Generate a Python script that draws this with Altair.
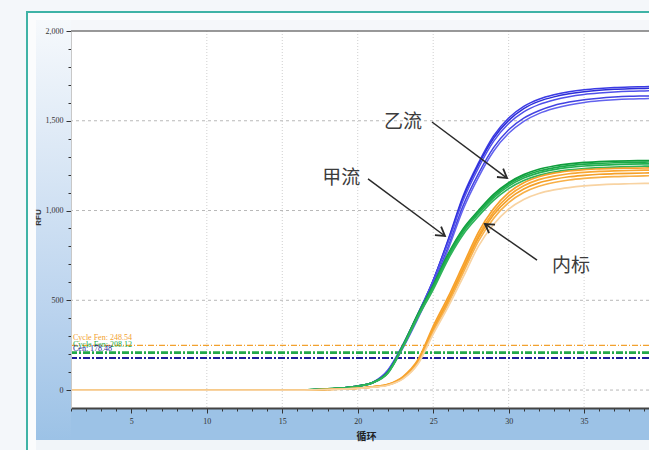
import math
import altair as alt
import pandas as pd

# ---------------------------------------------------------------- data
CYCLES = list(range(1, 41))

# 乙流 (blue) replicate amplification curves, RFU per cycle 1..40
FLU_B_1 = [0, 0, 0, 0, 0, 0, 0, 0, 0, 0, 0, 0, 0, 0, 0, 0,
           2, 6, 12, 22, 42, 105, 245, 420, 610, 840, 1085, 1265, 1415, 1515,
           1580, 1620, 1645, 1662, 1673, 1680, 1685, 1688, 1690, 1692]
FLU_B_2 = [0, 0, 0, 0, 0, 0, 0, 0, 0, 0, 0, 0, 0, 0, 0, 0,
           2, 6, 12, 22, 42, 108, 250, 425, 612, 835, 1075, 1255, 1402, 1502,
           1568, 1608, 1633, 1650, 1662, 1670, 1675, 1678, 1680, 1682]
FLU_B_3 = [0, 0, 0, 0, 0, 0, 0, 0, 0, 0, 0, 0, 0, 0, 0, 0,
           2, 6, 12, 23, 44, 112, 255, 428, 610, 825, 1060, 1238, 1385, 1485,
           1550, 1590, 1616, 1634, 1646, 1654, 1660, 1664, 1666, 1668]
FLU_B_4 = [0, 0, 0, 0, 0, 0, 0, 0, 0, 0, 0, 0, 0, 0, 0, 0,
           2, 5, 11, 21, 40, 100, 240, 410, 590, 800, 1030, 1205, 1350, 1450,
           1515, 1556, 1585, 1604, 1617, 1626, 1632, 1636, 1638, 1640]
FLU_B_5 = [0, 0, 0, 0, 0, 0, 0, 0, 0, 0, 0, 0, 0, 0, 0, 0,
           2, 5, 11, 21, 40, 98, 235, 400, 578, 785, 1010, 1185, 1330, 1430,
           1497, 1540, 1568, 1588, 1602, 1611, 1617, 1621, 1623, 1625]

# 甲流 (green) replicate curves
FLU_A_1 = [0, 0, 0, 0, 0, 0, 0, 0, 0, 0, 0, 0, 0, 0, 0, 0,
           2, 6, 12, 22, 42, 100, 250, 425, 585, 760, 900, 1000, 1090, 1155,
           1200, 1230, 1248, 1260, 1268, 1272, 1275, 1277, 1278, 1279]
FLU_A_2 = [0, 0, 0, 0, 0, 0, 0, 0, 0, 0, 0, 0, 0, 0, 0, 0,
           2, 6, 12, 22, 42, 98, 248, 420, 578, 752, 892, 992, 1080, 1146,
           1191, 1220, 1238, 1250, 1258, 1263, 1266, 1268, 1270, 1271]
FLU_A_3 = [0, 0, 0, 0, 0, 0, 0, 0, 0, 0, 0, 0, 0, 0, 0, 0,
           2, 6, 12, 22, 42, 96, 245, 415, 570, 742, 882, 982, 1070, 1136,
           1181, 1210, 1228, 1240, 1248, 1253, 1256, 1258, 1260, 1261]
FLU_A_4 = [0, 0, 0, 0, 0, 0, 0, 0, 0, 0, 0, 0, 0, 0, 0, 0,
           2, 5, 11, 21, 40, 94, 240, 408, 560, 730, 868, 968, 1056, 1122,
           1167, 1196, 1214, 1226, 1234, 1239, 1242, 1245, 1247, 1248]

# 内标 (orange) internal-control replicate curves
IC_1 = [0, 0, 0, 0, 0, 0, 0, 0, 0, 0, 0, 0, 0, 0, 0, 0,
        1, 3, 6, 10, 18, 32, 75, 170, 355, 520, 700, 880, 1010, 1100,
        1155, 1188, 1208, 1220, 1228, 1232, 1235, 1236, 1237, 1238]
IC_2 = [0, 0, 0, 0, 0, 0, 0, 0, 0, 0, 0, 0, 0, 0, 0, 0,
        1, 3, 6, 10, 18, 30, 70, 162, 342, 505, 685, 862, 992, 1082,
        1138, 1172, 1192, 1205, 1213, 1218, 1221, 1223, 1225, 1226]
IC_3 = [0, 0, 0, 0, 0, 0, 0, 0, 0, 0, 0, 0, 0, 0, 0, 0,
        1, 3, 6, 10, 18, 30, 68, 158, 335, 495, 672, 848, 976, 1064,
        1120, 1154, 1174, 1188, 1196, 1202, 1205, 1207, 1209, 1210]
IC_4 = [0, 0, 0, 0, 0, 0, 0, 0, 0, 0, 0, 0, 0, 0, 0, 0,
        1, 3, 5, 9, 17, 28, 65, 152, 325, 482, 655, 830, 956, 1044,
        1100, 1135, 1156, 1170, 1179, 1185, 1189, 1191, 1193, 1195]
IC_5 = [0, 0, 0, 0, 0, 0, 0, 0, 0, 0, 0, 0, 0, 0, 0, 0,
        1, 3, 5, 9, 16, 27, 62, 146, 312, 465, 632, 802, 922, 1008,
        1062, 1095, 1115, 1128, 1137, 1143, 1147, 1149, 1151, 1152]

# thresholds per channel
TH_VALUES = [248.54, 208.12, 178.48]
TH_LABELS = ["Cycle Fen:  248.54", "Cycle Fen:  208.12", "Cen:  178.48"]
TH_COLORS = ["#f2a12e", "#22a84a", "#1c1c9a"]

# axis ticks
X_TICKS = list(range(1, 40))
Y_TICKS = list(range(0, 2001, 100))
H_GRID = [0, 500, 1000, 1500]
V_GRID = [10, 15, 20, 25, 30, 35]

# callouts: label position and arrow from (x0, y0) to (x1, y1)
ANNOT_TEXT = ["乙流", "甲流", "内标"]
ANNOT_X = [23.0, 18.9, 34.13]
ANNOT_Y = [1493, 1181, 691]
ARROW_X0 = [24.92, 20.68, 31.88]
ARROW_Y0 = [1493, 1176, 724]
ARROW_X1 = [29.89, 25.78, 28.43]
ARROW_Y1 = [1181, 858, 925]

# ---------------------------------------------------------------- layout
W, H = 578, 377
PAD_L, PAD_T = 71, 31
X_DOMAIN = [1, 39.3]
Y_DOMAIN = [-100, 2000]

x_scale = alt.Scale(domain=X_DOMAIN, nice=False, zero=False)
y_scale = alt.Scale(domain=Y_DOMAIN, nice=False, zero=False)

x_axis = alt.Axis(
    values=X_TICKS,
    labelExpr="datum.value % 5 === 0 ? datum.value : ''",
    tickSize={"condition": {"test": "datum.value % 5 === 0", "value": 5}, "value": 3},
    tickColor="#333333", tickWidth=1,
    domainColor="#444444", domainWidth=2,
    labelFont="Liberation Serif", labelFontSize=8, labelColor="#333333",
    labelPadding=4, labelOverlap=False, labelFlush=False,
    grid=False, zindex=1,
    title="循环", titleFont="Noto Sans CJK SC", titleFontSize=10,
    titleFontWeight="bold", titleColor="#222222",
    titleX=295, titleY=28, titleBaseline="middle",
)
y_axis = alt.Axis(
    values=Y_TICKS,
    labelExpr="datum.value % 500 === 0 ? format(datum.value, ',') : ''",
    tickSize={"condition": {"test": "datum.value % 500 === 0", "value": 5}, "value": 3},
    tickColor="#333333", tickWidth=1,
    domainColor="#c8c8c8", domainWidth=1,
    labelFont="Liberation Serif", labelFontSize=8, labelColor="#333333",
    labelPadding=3, labelOverlap=False, labelFlush=False,
    grid=False, zindex=1,
    title="RFU", titleFont="Liberation Sans", titleFontSize=8,
    titleFontWeight="bold", titleColor="#333333",
    titleX=-33, titleY=186, titleAngle=270, titleBaseline="middle",
)


def X(field):
    return alt.X(field, type="quantitative", scale=x_scale, axis=x_axis)


def Y(field):
    return alt.Y(field, type="quantitative", scale=y_scale, axis=y_axis)


one = pd.DataFrame({"k": [0]})

# ---------------------------------------------------------------- decoration
# light card inside the teal frame (stops short of the white plot area)
frame_fill = alt.Chart(one).mark_rect(fill="#fbfcfd").encode(
    x=alt.value(-43), x2=alt.value(W + 10), y=alt.value(-18), y2=alt.value(-11))
frame_left_fill = alt.Chart(one).mark_rect(fill="#fbfcfd").encode(
    x=alt.value(-43), x2=alt.value(-35), y=alt.value(-18), y2=alt.value(H + 60))
frame_bottom_fill = alt.Chart(one).mark_rect(fill="#f1f5f9").encode(
    x=alt.value(-35), x2=alt.value(W + 10), y=alt.value(H + 32), y2=alt.value(H + 60))
frame_left = alt.Chart(one).mark_rule(color="#3fb3a6", strokeWidth=2).encode(
    x=alt.value(-44), y=alt.value(-19), y2=alt.value(H + 60))
frame_top = alt.Chart(one).mark_rule(color="#3fb3a6", strokeWidth=2).encode(
    x=alt.value(-45), x2=alt.value(W + 10), y=alt.value(-19))

panel_gradient = alt.LinearGradient(
    gradient="linear", x1=0, x2=0, y1=0, y2=1,
    stops=[
        alt.GradientStop(color="#f6f9fc", offset=0),
        alt.GradientStop(color="#dde9f6", offset=0.3),
        alt.GradientStop(color="#bad3ee", offset=0.7),
        alt.GradientStop(color="#9cc2e6", offset=1),
    ],
)
panel_left = alt.Chart(one).mark_rect(fill=panel_gradient).encode(
    x=alt.value(-35), x2=alt.value(0), y=alt.value(-11), y2=alt.value(H + 32))
panel_top = alt.Chart(one).mark_rect(fill="#f5f7fa").encode(
    x=alt.value(0), x2=alt.value(W + 5), y=alt.value(-11), y2=alt.value(0))
panel_bottom = alt.Chart(one).mark_rect(fill="#9cc2e6").encode(
    x=alt.value(0), x2=alt.value(W + 5), y=alt.value(H), y2=alt.value(H + 32))

# ---------------------------------------------------------------- grid
h_grid = alt.Chart(pd.DataFrame({"v": H_GRID})).mark_rule(
    color="#b8b8b8", strokeWidth=1, strokeDash=[3, 3]).encode(y=Y("v"))
v_grid = alt.Chart(pd.DataFrame({"v": V_GRID})).mark_rule(
    color="#cfcfcf", strokeWidth=1, strokeDash=[1, 2]).encode(x=X("v"))
top_border = alt.Chart(pd.DataFrame({"v": [2000]})).mark_rule(
    color="#777777", strokeWidth=1.5).encode(y=Y("v"))

# ---------------------------------------------------------------- thresholds
th_dash = [[6, 2, 1, 2], [7, 2, 2, 2], [7, 2, 2, 2]]
th_width = [1.2, 2.8, 2.2]
th_layers = []
for val, col, dash, wid in zip(TH_VALUES, TH_COLORS, th_dash, th_width):
    th_layers.append(
        alt.Chart(pd.DataFrame({"v": [val]})).mark_rule(
            color=col, strokeWidth=wid, strokeDash=dash).encode(y=Y("v")))

th_dy = [-3, -4, -5]
th_text_layers = []
for val, lab, col, dy in zip(TH_VALUES, TH_LABELS, TH_COLORS, th_dy):
    th_text_layers.append(
        alt.Chart(pd.DataFrame({"v": [val], "t": [lab]})).mark_text(
            align="left", baseline="bottom", dx=2, dy=dy,
            font="Liberation Serif", fontSize=8, color=col).encode(
            x=alt.value(0), y=Y("v"), text="t:N"))

# ---------------------------------------------------------------- curves


def curve_frame(series):
    rows = []
    for name, vals in series.items():
        for c, v in zip(CYCLES, vals):
            rows.append({"cycle": c, "rfu": v, "trace": name})
    return pd.DataFrame(rows)


def curve_layer(series, colors, width):
    df = curve_frame(series)
    return alt.Chart(df).mark_line(
        interpolate="monotone", strokeWidth=width, clip=True).encode(
        x=X("cycle"), y=Y("rfu"),
        color=alt.Color("trace:N", scale=alt.Scale(domain=list(series.keys()), range=colors),
                        legend=None),
        detail="trace:N",
    )


blue_curves = curve_layer(
    {"b1": FLU_B_1, "b2": FLU_B_2, "b3": FLU_B_3, "b4": FLU_B_4, "b5": FLU_B_5},
    ["#3b3be4", "#2d2dd8", "#5050ea", "#4343e2", "#6262ee"], 1.5)
green_curves = curve_layer(
    {"a1": FLU_A_1, "a2": FLU_A_2, "a3": FLU_A_3, "a4": FLU_A_4},
    ["#0f9e3c", "#1aa848", "#22b050", "#2fb45a"], 1.7)
orange_curves = curve_layer(
    {"i1": IC_1, "i2": IC_2, "i3": IC_3, "i4": IC_4, "i5": IC_5},
    ["#f7a02a", "#f9a733", "#f5a028", "#f8b048", "#f8d3a2"], 1.7)

# ---------------------------------------------------------------- callouts
xspan = X_DOMAIN[1] - X_DOMAIN[0]
yspan = Y_DOMAIN[1] - Y_DOMAIN[0]
angles = []
for x0, y0, x1, y1 in zip(ARROW_X0, ARROW_Y0, ARROW_X1, ARROW_Y1):
    dxp = (x1 - x0) * W / xspan
    dyp = -(y1 - y0) * H / yspan
    angles.append(math.degrees(math.atan2(dxp, -dyp)) % 360)

arrows = pd.DataFrame({"x0": ARROW_X0, "y0": ARROW_Y0, "x1": ARROW_X1,
                       "y1": ARROW_Y1, "angle": angles})
arrow_lines = alt.Chart(arrows).mark_rule(color="#2a2a2a", strokeWidth=1.5).encode(
    x=X("x0"), y=Y("y0"), x2="x1", y2="y1")
arrow_heads = alt.Chart(arrows).mark_point(
    shape="M -0.6 1 L 0 0 L 0.6 1", size=300, filled=False, strokeWidth=1.8,
    color="#2a2a2a", opacity=1).encode(
    x=X("x1"), y=Y("y1"), angle=alt.Angle("angle:Q", scale=None))

labels = pd.DataFrame({"x": ANNOT_X, "y": ANNOT_Y, "t": ANNOT_TEXT})
annot_text = alt.Chart(labels).mark_text(
    font="Noto Sans CJK SC", fontSize=19, color="#3c3c3c",
    align="center", baseline="middle").encode(x=X("x"), y=Y("y"), text="t:N")

# ---------------------------------------------------------------- assemble
chart = alt.layer(
    frame_fill, frame_left_fill, frame_bottom_fill, frame_left, frame_top,
    panel_left, panel_top, panel_bottom,
    h_grid, v_grid,
    *th_layers,
    blue_curves, green_curves, orange_curves,
    top_border,
    arrow_lines, arrow_heads, annot_text,
    *th_text_layers,
).resolve_scale(color="independent").properties(
    width=W, height=H,
    autosize=alt.AutoSizeParams(type="none"),
    padding={"left": PAD_L, "top": PAD_T, "right": 0, "bottom": 42},
    background="#f4f7fa",
).configure_view(fill="#ffffff", stroke=None)

chart.save("out.html", embed_options={"renderer": "svg", "actions": False})
